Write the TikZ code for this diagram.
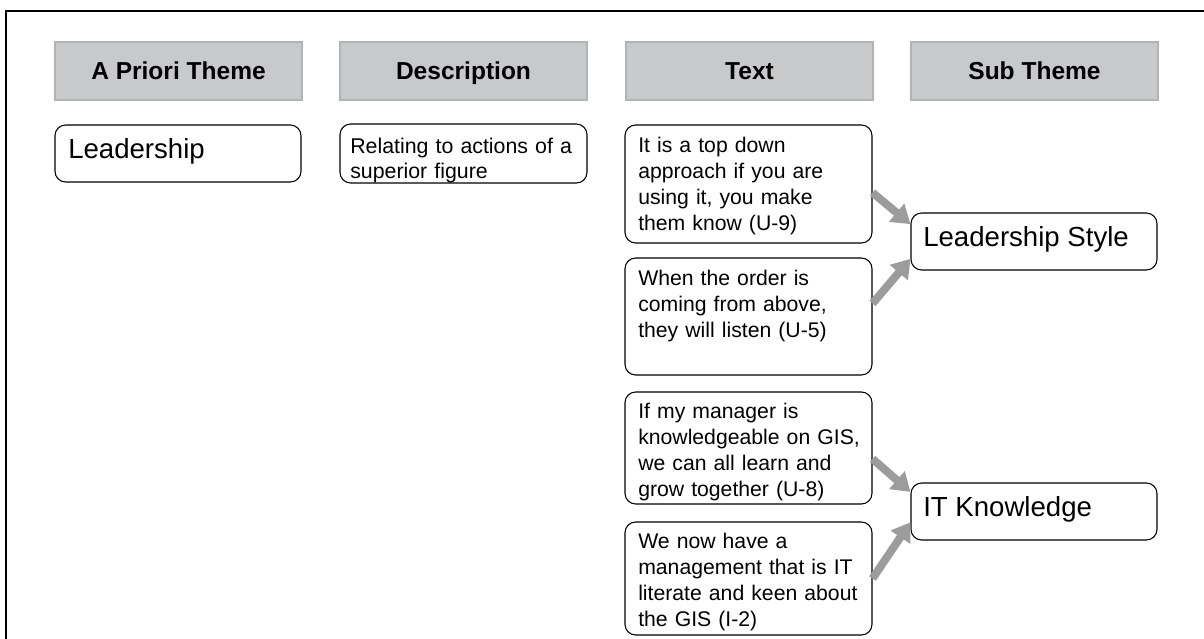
\documentclass[tikz,border=0pt]{standalone}
\usepackage{fontspec}
\setmainfont{Liberation Sans}
\usetikzlibrary{arrows.meta}
\definecolor{hdrfill}{RGB}{200,201,203}
\definecolor{hdrline}{RGB}{178,179,181}
\definecolor{arrowgray}{RGB}{156,156,156}

\begin{document}
\begin{tikzpicture}[x=0.75pt,y=-0.75pt,
  hdr/.style={draw=hdrline, fill=hdrfill, line width=1.2pt, inner sep=0pt,
    minimum width=185.25pt, minimum height=43.5pt, text height=13.2pt, text depth=-1.5pt,
    font=\bfseries\fontsize{18.4}{22}\selectfont},
  rbox/.style 2 args={draw=black, line width=0.8pt, rounded corners=8pt, inner sep=0pt,
    minimum width={#1*0.75pt}, minimum height={#2*0.75pt}},
  body/.style={inner sep=0pt, anchor=base west, text width=200pt, align=left,
    font=\fontsize{15.9}{19.5}\selectfont},
  descr/.style={body, font=\fontsize{16}{18.75}\selectfont},
  big/.style={inner sep=0pt, anchor=base west, font=\fontsize{20.7}{24}\selectfont},
  link/.style={draw=arrowgray, line width=6pt, -{Triangle[length=13.5pt,width=17pt]}}
]
% page area and outer frame
\clip (0,0) rectangle (1204,639);
\fill[white] (0,0) rectangle (1204,639);
\draw[line width=1.5pt] (6,660) -- (6,11) -- (1230,11);

% column headers
\node[hdr] (h1) at (178.5,71) {A Priori Theme};
\node[hdr] (h2) at (463.5,71) {Description};
\node[hdr] (h3) at (749.5,71) {Text};
\node[hdr] (h4) at (1034.5,71) {Sub Theme};

% a priori theme and its description
\node[rbox={246}{57}] (lead) at (178,153.5) {};
\node[big] (leadtext) at (68,158.5) {Leadership};
\node[rbox={247}{59}] (desc) at (463.5,153.5) {};
\node[descr] (desctext) at (350,153.3) {Relating to actions of a\\superior figure};

% quoted text
\node[rbox={247}{118}] (t1) at (748.5,184) {};
\node[body] (t1text) at (638,152.7) {It is a top down\\approach if you are\\using it, you make\\them know (U-9)};
\node[rbox={247}{117}] (t2) at (748.5,316.5) {};
\node[body] (t2text) at (638,285.7) {When the order is\\coming from above,\\they will listen (U-5)};
\node[rbox={247}{112}] (t3) at (748.5,448) {};
\node[body] (t3text) at (638,418.5) {If my manager is\\knowledgeable on GIS,\\we can all learn and\\grow together (U-8)};
\node[rbox={247}{113}] (t4) at (748.5,578.5) {};
\node[body] (t4text) at (638,548.3) {We now have a\\management that is IT\\literate and keen about\\the GIS (I-2)};

% sub themes
\node[rbox={246}{57}] (ls) at (1034,241.5) {};
\node[big] (lstext) at (923,246.7) {Leadership Style};
\node[rbox={246}{57}] (itk) at (1034,511.5) {};
\node[big] (itktext) at (923,516.7) {IT Knowledge};

% links from quotes to sub themes
\draw[link] (t1.-4) -- (ls.172);
\draw[link] (t2.6) -- (ls.188);
\draw[link] (t3.-5) -- (itk.171);
\draw[link] (t4.east) -- (itk.185);
\end{tikzpicture}
\end{document}
